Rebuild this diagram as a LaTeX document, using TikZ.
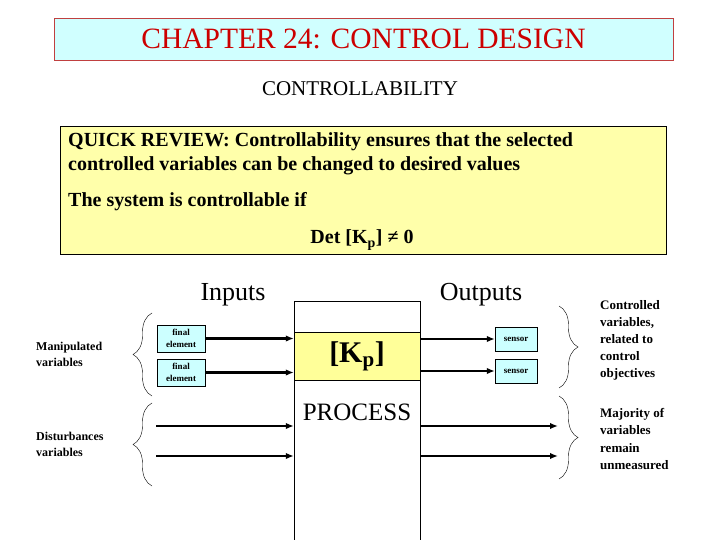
\documentclass[tikz,border=0pt]{standalone}
\usepackage{fontspec}
\setmainfont{Liberation Serif}
\usepackage{tikz}
\usetikzlibrary{shapes,arrows.meta,positioning,decorations.pathreplacing,calc}
\definecolor{titlecyan}{RGB}{208,255,255}
\definecolor{titlered}{RGB}{204,0,0}
\definecolor{titleborder}{RGB}{192,64,64}
\definecolor{reviewyellow}{RGB}{255,255,170}
\definecolor{kpyellow}{RGB}{255,255,153}
\definecolor{boxcyan}{RGB}{204,255,255}
\tikzset{
    titlebox/.style={rectangle, draw=titleborder, fill=titlecyan, minimum width=619pt, minimum height=42pt, inner sep=0pt, text=titlered, font=\fontsize{29.5}{31}\selectfont},
    reviewbox/.style={rectangle, draw, fill=reviewyellow, minimum width=606pt, minimum height=128pt, inner sep=0pt},
    reviewtext/.style={anchor=west, inner sep=0pt, font=\bfseries\fontsize{20}{22}\selectfont},
    smallbox/.style={rectangle, draw, fill=boxcyan, inner sep=0pt, align=center, font=\bfseries\fontsize{9}{12}\selectfont},
    sidetext/.style={anchor=west, inner sep=0pt, align=left, font=\bfseries\fontsize{12}{16}\selectfont},
    heading/.style={inner sep=0pt, font=\fontsize{26}{28}\selectfont},
    line/.style={draw, line width=2.2pt, -{Latex[length=8pt,width=6.5pt]}},
    bracket/.style={draw, thin, decorate, decoration={brace, amplitude=19pt}}
}
\begin{document}
\begin{tikzpicture}[x=1pt, y=-1pt]
    \path[fill=white, use as bounding box] (0,0) rectangle (720,540);

    % Title and review
    \node [titlebox] (title) at (363.5,39) {CHAPTER 24: CONTROL DESIGN};
    \node [inner sep=0pt, font=\fontsize{21}{23}\selectfont] (topic) at (360,89) {CONTROLLABILITY};
    \node [reviewbox] (review) at (363,190) {};
    \node [reviewtext] (qr1) at (68,142) {QUICK REVIEW: Controllability ensures that the selected};
    \node [reviewtext] (qr2) at (68,166) {controlled variables can be changed to desired values};
    \node [reviewtext] (sys) at (68,202) {The system is controllable if};
    \node [reviewtext, anchor=center] (det) at (362,240) {Det [K\textsubscript{p}] ≠ 0};

    % Process
    \node [rectangle, draw, anchor=north, minimum width=126pt, minimum height=250pt, inner sep=0pt] (proc) at (357,301) {};
    \node [rectangle, draw, fill=kpyellow, minimum width=126pt, minimum height=48pt, inner sep=0pt, font=\bfseries\fontsize{30}{32}\selectfont] (kp) at (357,356) {[K\textsubscript{p}]};
    \node [heading, font=\fontsize{25}{27}\selectfont] (procname) at (357,412) {PROCESS};
    \node [heading] (inputs) at (233,295) {Inputs};
    \node [heading] (outputs) at (481,295) {Outputs};

    % Inputs
    \node [smallbox, minimum width=48pt, minimum height=27pt] (fe1) at (181,338.5) {final\\element};
    \node [smallbox, minimum width=48pt, minimum height=27pt] (fe2) at (181,372.5) {final\\element};
    \coordinate (d1) at (156,426);
    \coordinate (d2) at (156,456);
    \path [line] (fe1.east) -- (fe1.east -| proc.west);
    \path [line] (fe2.east) -- (fe2.east -| proc.west);
    \path [line] (d1) -- (d1 -| proc.west);
    \path [line] (d2) -- (d2 -| proc.west);

    % Outputs
    \node [smallbox, minimum width=42pt, minimum height=24pt] (s1) at (516,339) {sensor};
    \node [smallbox, minimum width=42pt, minimum height=24pt] (s2) at (516,371) {sensor};
    \coordinate (u1) at (558,426);
    \coordinate (u2) at (558,456);
    \path [line] (s1.west -| proc.east) -- (s1.west);
    \path [line] (s2.west -| proc.east) -- (s2.west);
    \path [line] (u1 -| proc.east) -- (u1);
    \path [line] (u2 -| proc.east) -- (u2);

    % Braces and side texts
    \path [bracket] (152,396) -- (152,313);
    \path [bracket] (152,486) -- (152,403);
    \path [bracket] (559,306) -- (559,388);
    \path [bracket] (559,396) -- (559,479);
    \node [sidetext] (manip) at (36,354) {Manipulated\\variables};
    \node [sidetext] (dist) at (36,444) {Disturbances\\variables};
    \node [sidetext, font=\bfseries\fontsize{13}{17}\selectfont] (contr) at (600,340) {Controlled\\variables,\\related to\\control\\objectives};
    \node [sidetext, font=\bfseries\fontsize{13}{17.5}\selectfont] (major) at (600,439) {Majority of\\variables\\remain\\unmeasured};
\end{tikzpicture}
\end{document}
